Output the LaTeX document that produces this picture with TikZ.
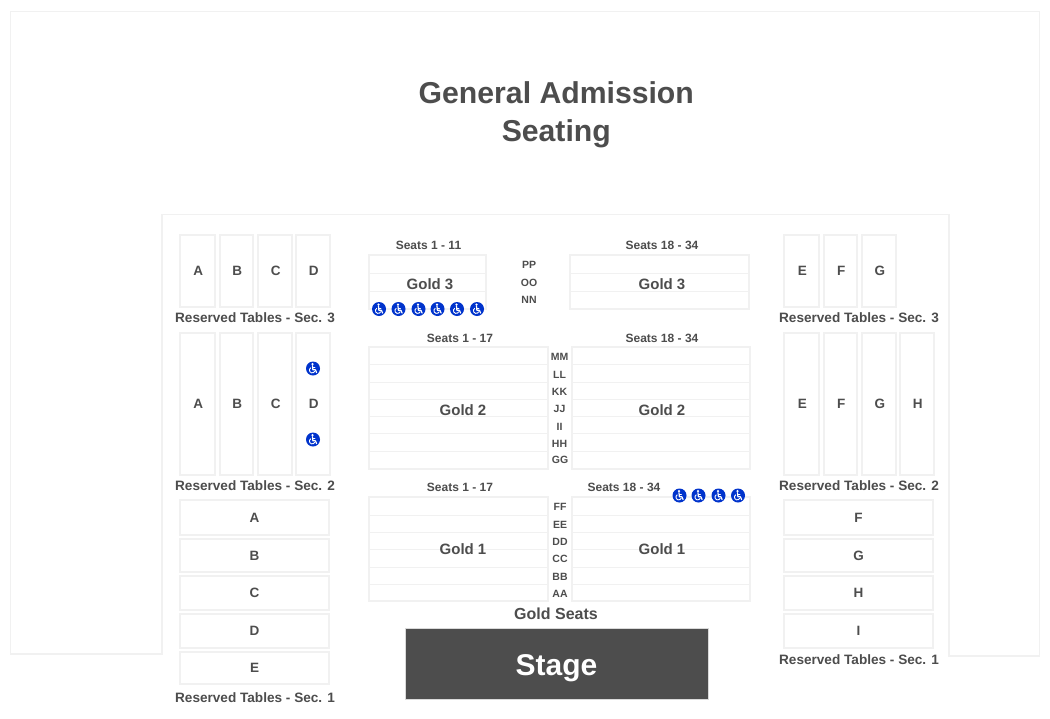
\documentclass[tikz,border=0pt]{standalone}
\usepackage{fontspec}
\setmainfont{Liberation Sans}
\definecolor{ink}{HTML}{4D4D4D}
\definecolor{edge}{HTML}{F1F1F1}
\definecolor{wblue}{HTML}{0033CC}
\newcommand{\fsz}[1]{\fontsize{#1}{#1}\selectfont\bfseries}
\newcommand{\cl}[1]{\hspace{1.5pt}#1}
\newcommand{\rl}[1]{\raisebox{-1pt}{#1}}
\tikzset{
  every node/.style={text=ink,inner sep=0pt,outer sep=0pt},
  cell/.style={draw=edge,line width=1.1pt,fill=white},
  rowline/.style={draw=edge,line width=0.9pt},
  sectcap/.style={font=\fsz{13.6}},
  seatcap/.style={font=\fsz{12}},
  rowlab/.style={font=\fsz{10.5}},
  goldlab/.style={font=\fsz{15}},
  tbl/.style={font=\fsz{13.5}},
  wheel/.pic={
    \fill[wblue] (0,0) circle (7);
    \fill[white] (-0.5,-4.3) circle (1.25);
    \draw[white,line width=1.2pt,line cap=round,line join=round] (-0.5,-2.8) -- (-0.1,1.3) -- (2.4,1.3) -- (3.6,4);
    \draw[white,line width=0.8pt,line cap=round] (-0.3,-0.9) -- (2,-0.9);
    \draw[white,line width=0.9pt] (-2.2,-0.8) arc[start angle=240,end angle=20,radius=2.8];
  }
}
\newcommand{\tb}[6]{\node[cell,tbl,anchor=north west,minimum width=#4pt-#2pt,minimum height=#5pt-#3pt] (#1) at (#2,#3) {#6};}
\begin{document}
\begin{tikzpicture}[x=1pt,y=-1pt]
\useasboundingbox (0,0) rectangle (1050,718);
\fill[white] (0,0) rectangle (1050,718);
% venue outline
\draw[edge,line width=1.3pt] (162,654) -- (10.5,654) -- (10.5,11.5) -- (1039.5,11.5) -- (1039.5,656) -- (949,656) -- (949,214.5) -- (162,214.5) -- cycle;
\node[align=center,font={\fontsize{30.2}{37.6}\selectfont\bfseries}] (ga) at (556.3,114.5) {General Admission\\Seating};
% Sec 3
\tb{a3}{180}{235}{215}{307}{\cl{A}}
\tb{b3}{220}{235}{253}{307}{\cl{B}}
\tb{c3}{258}{235}{292}{307}{\cl{C}}
\tb{d3}{296}{235}{330}{307}{\cl{D}}
\tb{e3}{784}{235}{819}{307}{\cl{E}}
\tb{f3}{824}{235}{857}{307}{\cl{F}}
\tb{g3}{862}{235}{896}{307}{\cl{G}}
\node[sectcap] (s3l) at (255,317.5) {Reserved Tables - Sec. 3};
\node[sectcap] (s3r) at (859,317.5) {Reserved Tables - Sec. 3};
% Sec 2
\tb{a2}{180}{333}{215}{475}{\cl{A}}
\tb{b2}{220}{333}{253}{475}{\cl{B}}
\tb{c2}{258}{333}{292}{475}{\cl{C}}
\tb{d2}{296}{333}{330}{475}{\cl{D}}
\tb{e2}{784}{333}{819}{475}{\cl{E}}
\tb{f2}{824}{333}{857}{475}{\cl{F}}
\tb{g2}{862}{333}{896}{475}{\cl{G}}
\tb{h2}{900}{333}{934}{475}{\cl{H}}
\node[sectcap] (s2l) at (255,485.5) {Reserved Tables - Sec. 2};
\node[sectcap] (s2r) at (859,485.5) {Reserved Tables - Sec. 2};
% Sec 1
\tb{a1}{180}{500}{329}{535}{\rl{A}}
\tb{b1}{180}{539}{329}{572}{\rl{B}}
\tb{c1}{180}{576}{329}{610}{C}
\tb{d1}{180}{614}{329}{648}{D}
\tb{e1}{180}{652}{329}{684}{E}
\tb{f1}{784}{500}{933}{535}{\rl{F}}
\tb{g1}{784}{539}{933}{572}{\rl{G}}
\tb{h1}{784}{576}{933}{610}{H}
\tb{i1}{784}{614}{933}{648}{I}
\node[sectcap] (s1l) at (255,697.5) {Reserved Tables - Sec. 1};
\node[sectcap] (s1r) at (859,659.5) {Reserved Tables - Sec. 1};
% Gold 3
\draw[cell] (369,255) rectangle (486,309);
\foreach \y in {273,291} \draw[rowline] (369,\y) -- (486,\y);
\draw[cell] (570,255) rectangle (749,309);
\foreach \y in {273,291} \draw[rowline] (570,\y) -- (749,\y);
\node[goldlab] (g3l) at (430,284) {Gold 3};
\node[goldlab] (g3r) at (662,284) {Gold 3};
\node[seatcap] (c3l) at (428.5,245) {Seats 1 - 11};
\node[seatcap] (c3r) at (662,245) {Seats 18 - 34};
\node[rowlab] at (529,264.5) {PP};
\node[rowlab] at (529,282.5) {OO};
\node[rowlab] at (529,299.5) {NN};
% Gold 2
\draw[cell] (369,347) rectangle (548,469);
\foreach \y in {364.5,382,399.5,416.5,433.5,451.5} \draw[rowline] (369,\y) -- (548,\y);
\draw[cell] (572,347) rectangle (750,469);
\foreach \y in {364.5,382,399.5,416.5,433.5,451.5} \draw[rowline] (572,\y) -- (750,\y);
\node[goldlab] (g2l) at (463,410) {Gold 2};
\node[goldlab] (g2r) at (662,410) {Gold 2};
\node[seatcap] (c2l) at (460,338) {Seats 1 - 17};
\node[seatcap] (c2r) at (662,338) {Seats 18 - 34};
\node[rowlab] at (559.5,356.5) {MM};
\node[rowlab] at (559.5,374.5) {LL};
\node[rowlab] at (559.5,391.5) {KK};
\node[rowlab] at (559.5,408.5) {JJ};
\node[rowlab] at (559.5,426.5) {II};
\node[rowlab] at (559.5,443.5) {HH};
\node[rowlab] at (560,459.5) {GG};
% Gold 1
\draw[cell] (369,497) rectangle (548,601);
\foreach \y in {515.5,532,549.5,567,584} \draw[rowline] (369,\y) -- (548,\y);
\draw[cell] (572,497) rectangle (750,601);
\foreach \y in {515.5,532,549.5,567,584} \draw[rowline] (572,\y) -- (750,\y);
\node[goldlab] (g1l) at (463,549) {Gold 1};
\node[goldlab] (g1r) at (662,549) {Gold 1};
\node[seatcap] (c1l) at (460,487) {Seats 1 - 17};
\node[seatcap] (c1r) at (624,487) {Seats 18 - 34};
\node[rowlab] at (560,506.5) {FF};
\node[rowlab] at (560,524.5) {EE};
\node[rowlab] at (560,541.5) {DD};
\node[rowlab] at (560,558.5) {CC};
\node[rowlab] at (560,576.5) {BB};
\node[rowlab] at (560,593.5) {AA};
\node[font=\fsz{16}] (gs) at (556,613.5) {Gold Seats};
% Stage
\node[anchor=north west,draw=black!15,line width=1pt,fill=ink,minimum width=303pt,minimum height=71pt,text=white,font=\fsz{30}] (stage) at (405,628) {\smash{\raisebox{-11.5pt}{Stage}}};
% accessible seats
\foreach \x in {379,398.5,418.5,437.5,457,477} \pic at (\x,309) {wheel};
\foreach \x in {679.5,698.5,718.5,738} \pic at (\x,495.5) {wheel};
\pic at (313,368.5) {wheel};
\pic at (313,439.5) {wheel};
\end{tikzpicture}
\end{document}
